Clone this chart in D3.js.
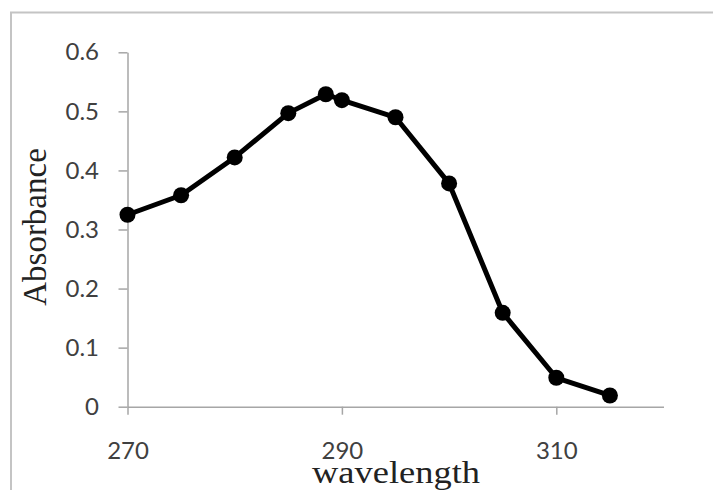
<!DOCTYPE html>
<html>
<head>
<meta charset="utf-8">
<script src="https://cdn.jsdelivr.net/npm/d3@7"></script>
<style>
  body { margin: 0; background: #fff; }
  svg { display: block; }
</style>
</head>
<body>
<div id="chart"></div>
<script>
// values
var wavelength = [270, 275, 280, 285, 288.5, 290, 295, 300, 305, 310, 315];
var absorbance = [0.325, 0.358, 0.422, 0.497, 0.529, 0.519, 0.490, 0.378, 0.159, 0.049, 0.019];
var xTicks = [270, 290, 310];
var yTicks = [0, 0.1, 0.2, 0.3, 0.4, 0.5, 0.6];
var yTickLabels = ["0", "0.1", "0.2", "0.3", "0.4", "0.5", "0.6"];

var data = wavelength.map(function(w, i) { return [w, absorbance[i]]; });

var svg = d3.select("#chart")
            .append("svg")
            .attr("width", 713)
            .attr("height", 490);

// outer frame (only left and top are visible in the picture)
svg.append("path")
   .attr("d", "M11,490 V12.5 H713")
   .attr("fill", "none")
   .attr("stroke", "#c4c4c4")
   .attr("stroke-width", 2);

var xScale = d3.scaleLinear().domain([270, 320]).range([127.5, 663.5]),
    yScale = d3.scaleLinear().domain([0, 0.6]).range([406.7, 52.3]);

var xAxis = svg.append("g")
   .attr("transform", "translate(0," + yScale(0) + ")")
   .call(d3.axisBottom(xScale)
           .tickValues(xTicks)
           .tickSize(8)
           .tickSizeOuter(0)
           .tickPadding(27)
           .tickFormat(d3.format("d")));

var yAxis = svg.append("g")
   .attr("transform", "translate(" + xScale(270) + ",0)")
   .call(d3.axisLeft(yScale)
           .tickValues(yTicks)
           .tickSize(9)
           .tickSizeOuter(0)
           .tickPadding(19.5)
           .tickFormat(function(d, i) { return yTickLabels[i]; }));

[xAxis, yAxis].forEach(function(ax) {
  ax.selectAll(".domain, .tick line")
    .attr("stroke", "#a6a6a6")
    .attr("stroke-width", 1.5);
  ax.selectAll(".tick text")
    .attr("fill", "#404040")
    .style("font-family", "Lato, 'Open Sans', sans-serif")
    .style("font-size", "24px");
});

svg.append("text")
   .attr("x", 396)
   .attr("y", 483)
   .attr("text-anchor", "middle")
   .attr("textLength", 168)
   .attr("lengthAdjust", "spacingAndGlyphs")
   .style("font-family", "'Liberation Serif', 'Times New Roman', serif")
   .style("font-size", "32px")
   .attr("fill", "#222")
   .text("wavelength");

svg.append("text")
   .attr("transform", "translate(46,227) rotate(-90)")
   .attr("text-anchor", "middle")
   .style("font-family", "'Liberation Serif', 'Times New Roman', serif")
   .style("font-size", "33px")
   .attr("fill", "#222")
   .text("Absorbance");

var line = d3.line()
   .x(function(d) { return xScale(d[0]); })
   .y(function(d) { return yScale(d[1]); });

svg.append("path")
   .datum(data)
   .attr("d", line)
   .attr("fill", "none")
   .attr("stroke", "#000")
   .attr("stroke-width", 5)
   .attr("stroke-linejoin", "round");

svg.selectAll(".dot")
   .data(data)
   .enter()
   .append("circle")
   .attr("class", "dot")
   .attr("cx", function(d) { return xScale(d[0]); })
   .attr("cy", function(d) { return yScale(d[1]); })
   .attr("r", 8)
   .attr("fill", "#000");
</script>
</body>
</html>
